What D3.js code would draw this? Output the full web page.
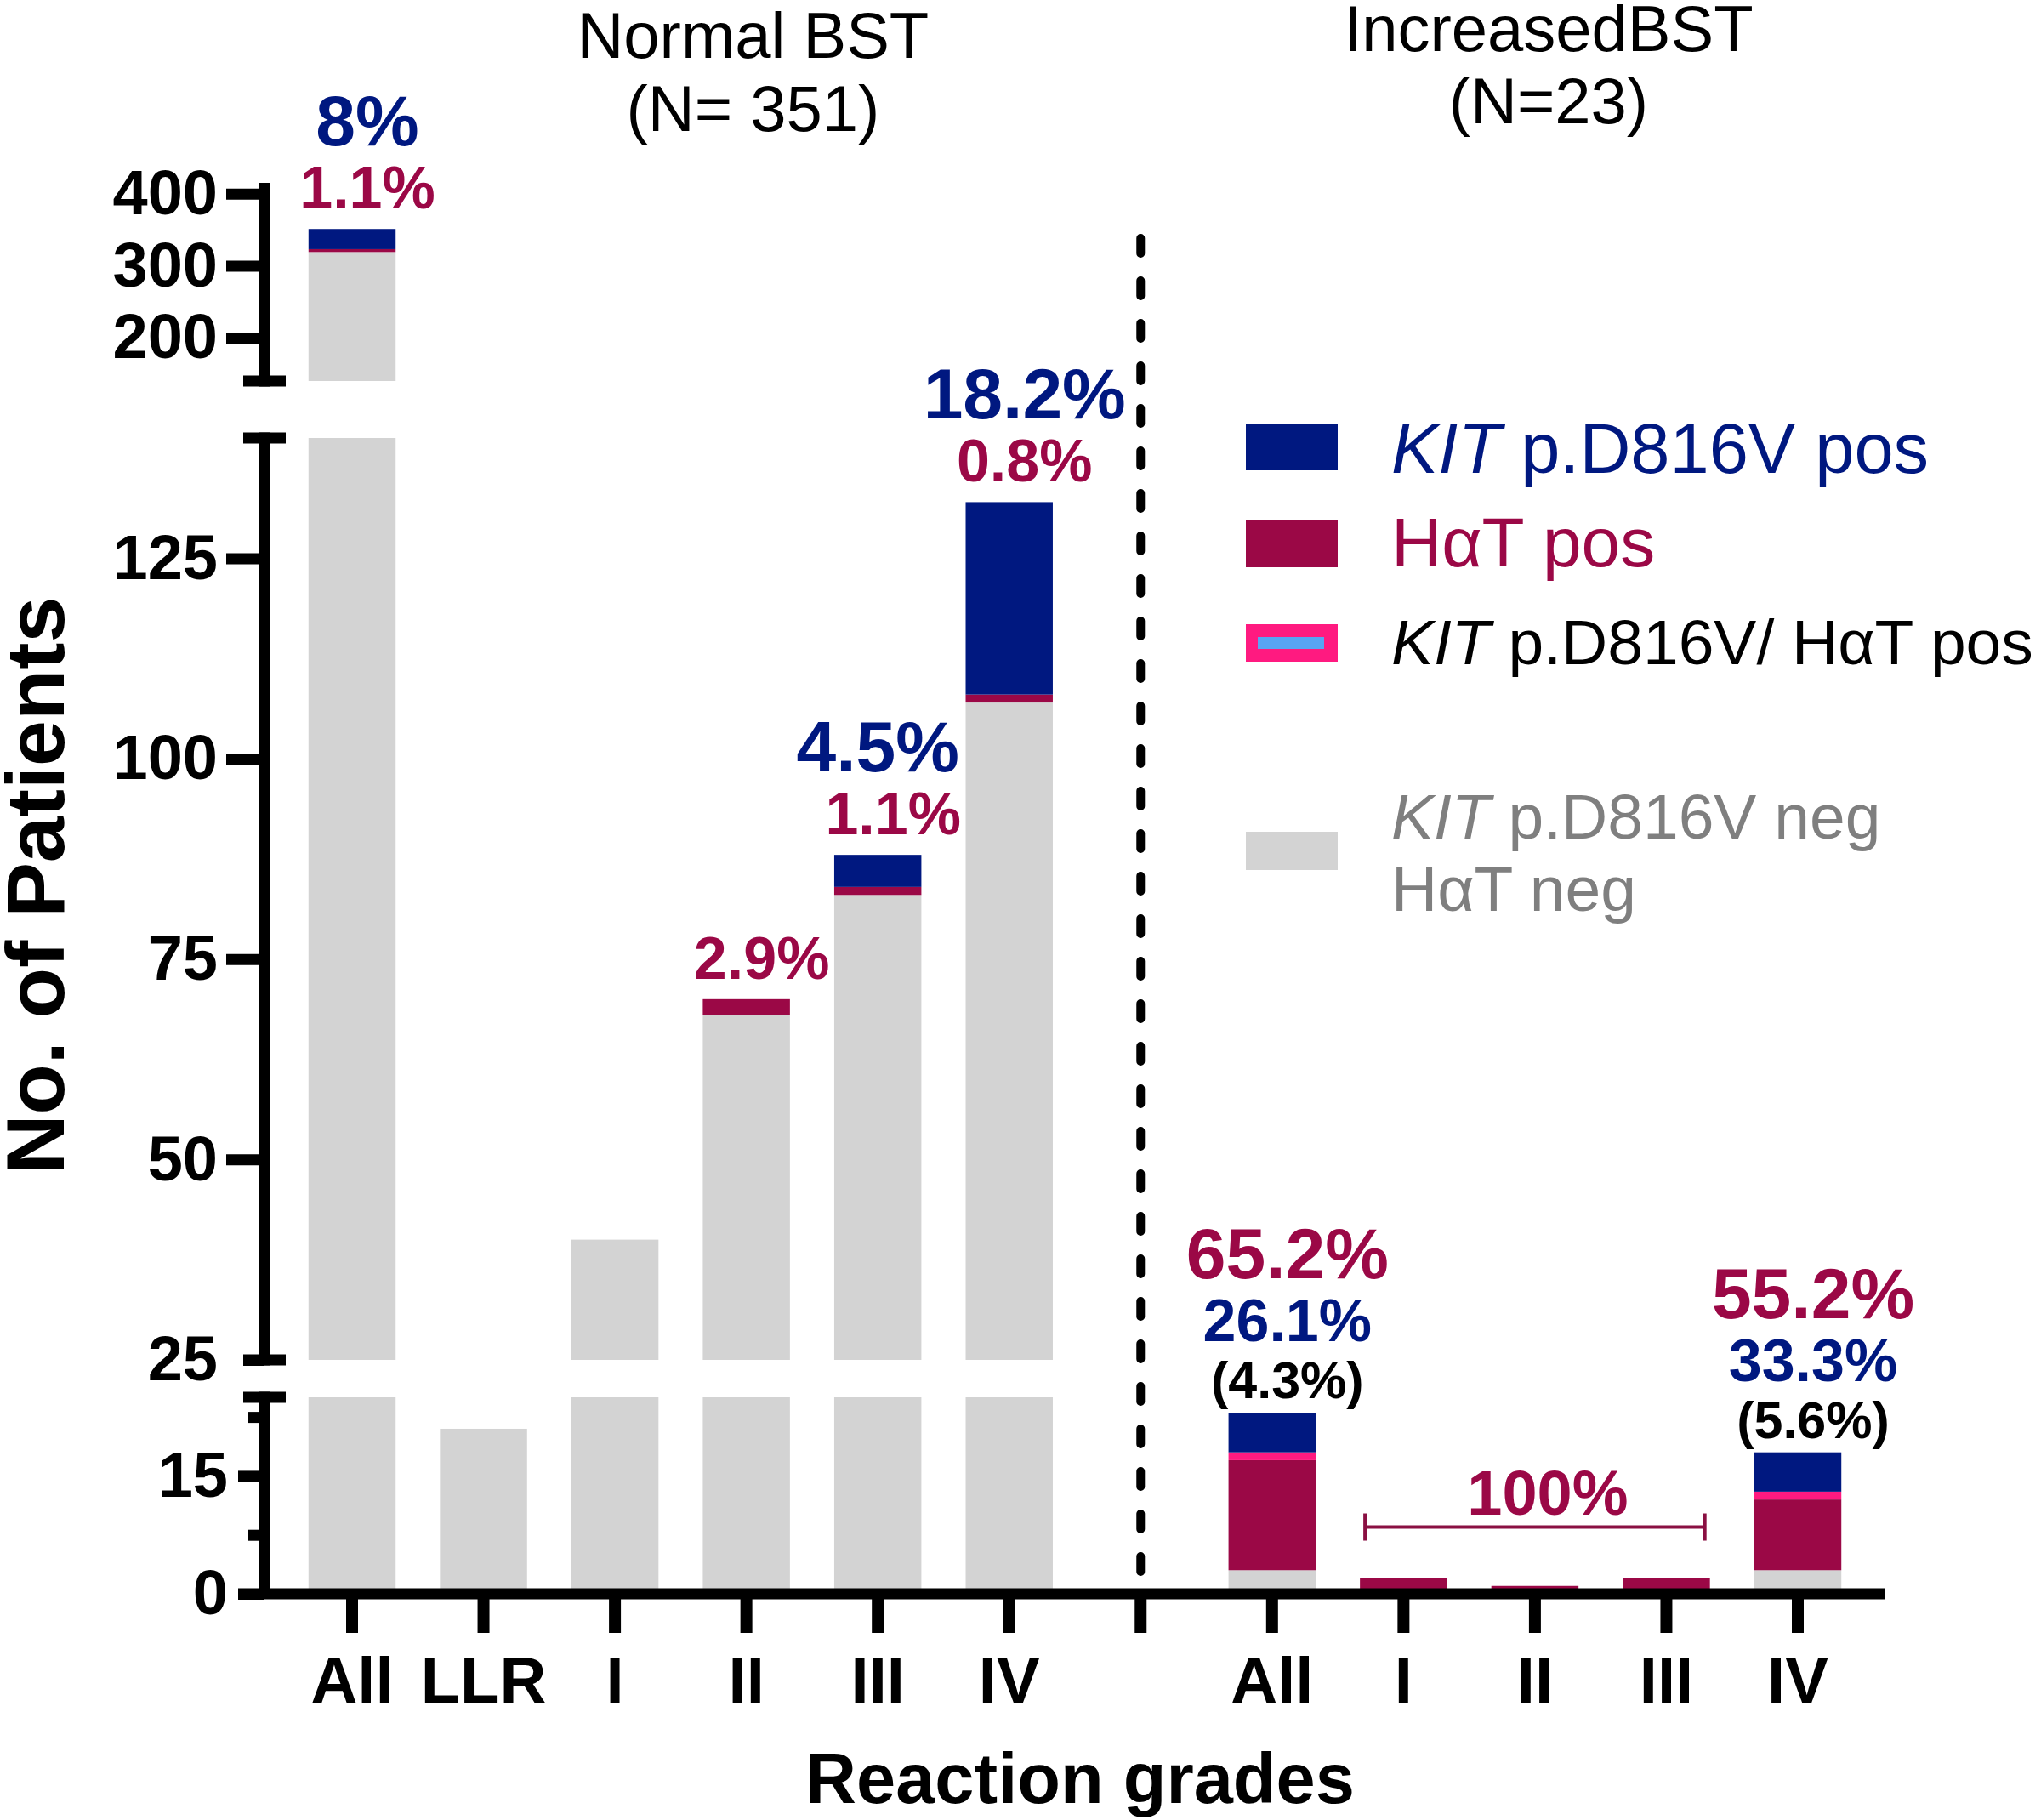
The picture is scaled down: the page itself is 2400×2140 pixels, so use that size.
<!DOCTYPE html>
<html><head><meta charset="utf-8">
<script src="https://cdn.jsdelivr.net/npm/d3@7"></script>
<style>
body{margin:0;background:#fff}
svg{display:block}
text{font-family:"Liberation Sans",Arial,sans-serif}
</style>
</head><body>
<svg id="chart" width="2400" height="2140"></svg>
<script>
// ---------------- data ----------------
const categories = ["All","LLR","I","II","III","IV","","All","I","II","III","IV"];
const groupTitles = ["Normal BST","IncreasedBST"];
const groupCounts = ["(N= 351)","(N=23)"];
const negNeg  = [319,21,40,68,83,107,0,3,0,0,0,3];   // KIT neg / HaT neg
const hatOnly = [4,0,0,2,1,1,0,14,2,1,2,9];          // HaT pos
const bothPos = [0,0,0,0,0,0,0,1,0,0,0,1];           // KIT + HaT pos
const kitOnly = [28,0,0,0,4,24,0,5,0,0,0,5];         // KIT pos
const pctKit  = ["8%","","","","4.5%","18.2%","","26.1%","","","","33.3%"];
const pctHat  = ["1.1%","","","2.9%","1.1%","0.8%","","65.2%","","","","55.2%"];
const pctBoth = ["","","","","","","","(4.3%)","","","","(5.6%)"];
const bracketText = "100%";
const bracketRange = [8,10];
const ticksTop = [200,300,400];
const ticksMid = [25,50,75,100,125];
const ticksBot = [0,15];
const minorBot = [7.5,22.5];
const legendItems = ["kit","hat","both","neg"];

// ---------------- styles ----------------
const C = {neg:"#D3D3D3", hat:"#9B0846", both:"#FF1A80", kit:"#001880", inner:"#58A4F4"};
const svg = d3.select("#chart");

// ---------------- scales ----------------
const x = d3.scaleBand().domain(d3.range(categories.length))
  .range([311,2217]).paddingInner(0.337).paddingOuter(0.335);
const bw = x.bandwidth();
const segs = [
  d3.scaleLinear().domain([140,415]).range([448,215]),
  d3.scaleLinear().domain([25,140]).range([1599,515]),
  d3.scaleLinear().domain([0,25]).range([1874,1643])
];
function yOf(v){ return v>140 ? segs[0](v) : (v>25 ? segs[1](v) : segs[2](v)); }

// ---------------- stacked bars ----------------
const rows = categories.map((c,i)=>({i, neg:negNeg[i], hat:hatOnly[i], both:bothPos[i], kit:kitOnly[i]}));
const stack = d3.stack().keys(["neg","hat","both","kit"])(rows);
const gBars = svg.append("g");
stack.forEach(series=>{
  series.forEach((d,j)=>{
    segs.forEach(s=>{
      const [d0,d1] = s.domain();
      const lo = Math.max(d[0],d0), hi = Math.min(d[1],d1);
      if(hi>lo){
        gBars.append("rect").attr("x",x(j)).attr("width",bw)
          .attr("y",s(hi)).attr("height",s(lo)-s(hi))
          .attr("fill",C[series.key]);
      }
    });
  });
});

// ---------------- y axis segments ----------------
const AX = 311, SW = 13;
function styleAxis(g, fs){
  g.select(".domain").remove();
  g.selectAll(".tick line").attr("stroke","#000").attr("stroke-width",SW);
  g.selectAll(".tick text").attr("font-size",fs).attr("font-weight","bold").attr("fill","#000")
   .attr("font-family","'Liberation Sans',Arial,sans-serif");
}
const gTop = svg.append("g").attr("transform",`translate(${AX},0)`)
  .call(d3.axisLeft(segs[0]).tickValues(ticksTop).tickSize(45).tickPadding(10).tickSizeOuter(0));
styleAxis(gTop,74);
const gMid = svg.append("g").attr("transform",`translate(${AX},0)`)
  .call(d3.axisLeft(segs[1]).tickValues(ticksMid).tickSize(45).tickPadding(10).tickSizeOuter(0));
styleAxis(gMid,74);
gMid.selectAll(".tick line").filter(d=>d===25).attr("x2",-25);
const gBot = svg.append("g").attr("transform",`translate(${AX},0)`)
  .call(d3.axisLeft(segs[2]).tickValues(ticksBot).tickSize(31).tickPadding(12).tickSizeOuter(0));
styleAxis(gBot,74);
const gMin = svg.append("g").attr("transform",`translate(${AX},0)`)
  .call(d3.axisLeft(segs[2]).tickValues(minorBot).tickSize(19).tickFormat("").tickSizeOuter(0));
styleAxis(gMin,74);

// axis spines and break caps
const gSp = svg.append("g").attr("stroke","#000").attr("stroke-width",SW);
segs.forEach((s,k)=>{
  const r = s.range();
  gSp.append("line").attr("x1",AX).attr("x2",AX)
    .attr("y1",r[1]-(k===0?0:SW/2)).attr("y2",r[0]+(k===2?0:SW/2));
});
[segs[0].range()[0], segs[1].range()[1], segs[1].range()[0], segs[2].range()[1]].forEach(yc=>{
  gSp.append("line").attr("x1",AX-25).attr("x2",AX+25).attr("y1",yc).attr("y2",yc);
});

// ---------------- x axis ----------------
const y0 = segs[2](0);
const gx = svg.append("g").attr("transform",`translate(0,${y0})`)
  .call(d3.axisBottom(x).tickSize(46).tickPadding(28).tickSizeOuter(0).tickFormat(i=>categories[i]));
gx.select(".domain").remove();
gx.selectAll(".tick line").attr("stroke","#000").attr("stroke-width",14);
gx.selectAll(".tick text").attr("font-size",76).attr("font-weight","bold").attr("fill","#000")
  .attr("font-family","'Liberation Sans',Arial,sans-serif");
svg.append("line").attr("x1",AX-31).attr("x2",2217).attr("y1",y0).attr("y2",y0)
  .attr("stroke","#000").attr("stroke-width",SW);

// dashed separator
const xSep = x(6)+bw/2;
svg.append("line").attr("x1",xSep).attr("x2",xSep).attr("y1",280).attr("y2",y0-8)
  .attr("stroke","#000").attr("stroke-width",10).attr("stroke-dasharray","18,32")
  .attr("stroke-linecap","round");

// ---------------- percentage labels ----------------
const gLab = svg.append("g").attr("font-weight","bold").attr("text-anchor","middle");
const normalRows = [
  {arr:pctHat, size:70, color:C.hat, off:24},
  {arr:pctKit, size:84, color:C.kit, off:98}
];
const incRows = [
  {arr:pctBoth, size:61, color:"#000", off:17},
  {arr:pctKit, size:70, color:C.kit, off:84},
  {arr:pctHat, size:84, color:C.hat, off:158}
];
rows.forEach((r,i)=>{
  const tot = r.neg+r.hat+r.both+r.kit;
  const top = yOf(tot);
  (i<6?normalRows:incRows).forEach(L=>{
    const shift = (i===4 && L.arr===pctKit) ? 0 : 18;
    if(L.arr[i]) gLab.append("text").attr("x",x(i)+bw/2+shift).attr("y",top-L.off)
      .attr("font-size",L.size).attr("fill",L.color).text(L.arr[i]);
  });
});

// bracket "100%"
const bx1 = x(bracketRange[0])+6, bx2 = x(bracketRange[1])+bw-6;
const bmax = d3.max(d3.range(bracketRange[0],bracketRange[1]+1), i=>negNeg[i]+hatOnly[i]+bothPos[i]+kitOnly[i]);
const by = segs[2](bmax)-60;
const gBr = svg.append("g").attr("stroke","#8A1042").attr("stroke-width",4).attr("fill","none");
gBr.append("line").attr("x1",bx1).attr("x2",bx2).attr("y1",by).attr("y2",by);
gBr.append("line").attr("x1",bx1).attr("x2",bx1).attr("y1",by-16).attr("y2",by+16);
gBr.append("line").attr("x1",bx2).attr("x2",bx2).attr("y1",by-16).attr("y2",by+16);
svg.append("text").attr("x",(bx1+bx2)/2+15).attr("y",by-15).attr("text-anchor","middle")
  .attr("font-size",74).attr("font-weight","bold").attr("fill",C.hat).text(bracketText);

// ---------------- group headings ----------------
const headX = [(x(0)+x(5)+bw)/2 + 85, (x(7)+x(11)+bw)/2 + 16];
const headY = [[68,154],[60,145]];
groupTitles.forEach((t,k)=>{
  svg.append("text").attr("x",headX[k]).attr("y",headY[k][0]).attr("text-anchor","middle")
    .attr("font-size",76).attr("fill","#000").text(t);
  svg.append("text").attr("x",headX[k]).attr("y",headY[k][1]).attr("text-anchor","middle")
    .attr("font-size",76).attr("fill","#000").text(groupCounts[k]);
});

// ---------------- axis titles ----------------
svg.append("text").attr("transform","translate(75,1041) rotate(-90)").attr("text-anchor","middle")
  .attr("font-size",97).attr("font-weight","bold").attr("fill","#000").text("No. of Patients");
svg.append("text").attr("x",1270).attr("y",2120).attr("text-anchor","middle")
  .attr("font-size",83).attr("font-weight","bold").attr("fill","#000").text("Reaction grades");

// ---------------- legend ----------------
const lg = svg.append("g");
const sw = [{y:499,h:54},{y:612,h:55},{y:734,h:44},{y:978,h:45}];
legendItems.forEach((k,j)=>{
  lg.append("rect").attr("x",1465).attr("y",sw[j].y).attr("width",108).attr("height",sw[j].h).attr("fill",C[k]);
});
lg.append("rect").attr("x",1479).attr("y",749).attr("width",78).attr("height",14).attr("fill",C.inner);
function legText(y, size, color, parts){
  const t = lg.append("text").attr("x",1636).attr("y",y).attr("font-size",size).attr("fill",color);
  parts.forEach(p=>t.append("tspan").attr("font-style",p[1]?"italic":"normal").text(p[0]));
}
legText(556,83,C.kit,[["KIT",1],[" p.D816V pos",0]]);
legText(666,82,C.hat,[["HαT pos",0]]);
legText(781,75,"#000",[["KIT",1],[" p.D816V/ HαT pos",0]]);
legText(986,75,"#7F7F7F",[["KIT",1],[" p.D816V neg",0]]);
legText(1071,75,"#7F7F7F",[["HαT neg",0]]);
</script>
</body></html>
